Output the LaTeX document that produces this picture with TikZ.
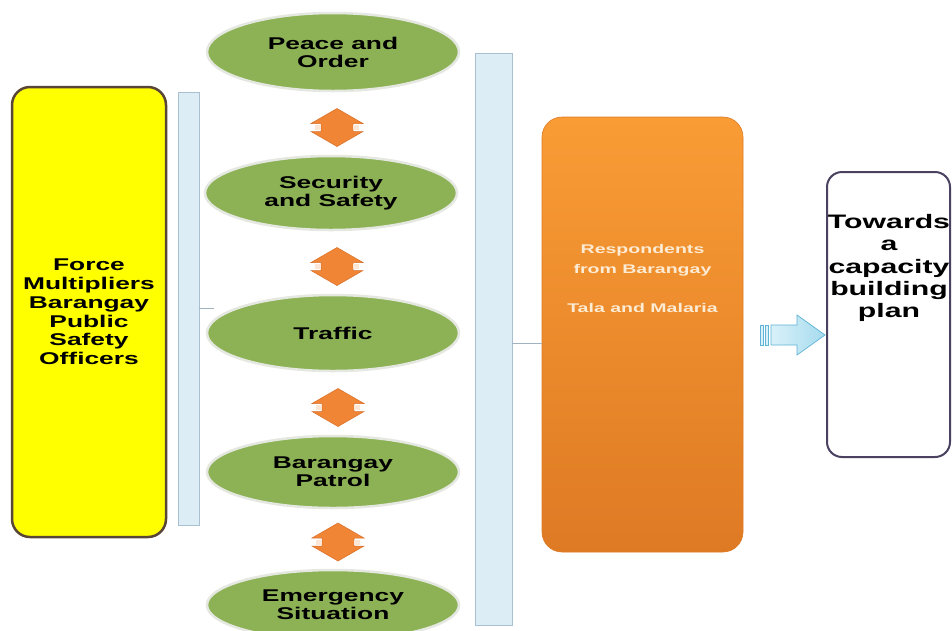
\documentclass[tikz,border=0pt]{standalone}
\usepackage{fontspec}
\setmainfont{Liberation Sans}
\newfontfamily\wide[FakeStretch=1.55]{Liberation Sans}
\usetikzlibrary{shapes.geometric,calc}
\definecolor{ygold}{HTML}{FFFF00}
\definecolor{ybrd}{HTML}{5A4636}
\definecolor{barfill}{HTML}{DDEDF5}
\definecolor{baredge}{HTML}{A8C0CF}
\definecolor{tgreen}{HTML}{8DB256}
\definecolor{halo}{HTML}{E4E8E0}
\definecolor{otop}{HTML}{F99C35}
\definecolor{obot}{HTML}{DE7A24}
\definecolor{otxt}{HTML}{FDEBD3}
\definecolor{darr}{HTML}{F08536}
\definecolor{darredge}{HTML}{D86E25}
\definecolor{rbrd}{HTML}{4A4260}
\definecolor{blA}{HTML}{D9F1F9}
\definecolor{blB}{HTML}{A6DBEE}
\definecolor{blE}{HTML}{5FB3D6}
\begin{document}
\begin{tikzpicture}[x=1pt,y=-1pt,
  ybox/.style={draw=ybrd,line width=2.5pt,fill=ygold,rounded corners=18pt,
    minimum width=154pt,minimum height=450pt,inner sep=0pt,align=center,
    font=\wide\bfseries\fontsize{17}{18.8}\selectfont},
  bar/.style={fill=barfill,draw=baredge,line width=0.6pt,inner sep=0pt},
  topic/.style={ellipse,fill=tgreen,draw=halo,line width=2.5pt,minimum width=252pt,
    inner sep=0pt,align=center,font=\wide\bfseries\fontsize{17}{18}\selectfont},
  obox/.style={rounded corners=20pt,top color=otop,bottom color=obot,draw=obot,
    line width=0.6pt,minimum width=201pt,minimum height=435pt,inner sep=0pt},
  otext/.style={text=otxt,align=center,font=\wide\bfseries\fontsize{12.6}{20}\selectfont},
  rbox/.style={draw=rbrd,line width=2pt,fill=white,rounded corners=15pt,
    minimum width=123pt,minimum height=285pt,inner sep=0pt},
  rtext/.style={align=center,font=\wide\bfseries\fontsize{19.5}{22.3}\selectfont},
  link/.style={draw=baredge!80!gray,line width=0.6pt},
  dblarrow/.pic={
    \fill[darr,draw=darredge,line width=0.5pt] (0,-19) -- (26,-4) -- (16,-4) -- (16,4) -- (26,4)
      -- (0,19) -- (-26,4) -- (-16,4) -- (-16,-4) -- (-26,-4) -- cycle;
    \fill[white!80!darr] (-16,-2.5) rectangle (-22,2.5);
    \fill[white!80!darr] (16,-2.5) rectangle (22,2.5);
  }
]
\clip (0,0) rectangle (952,630);
\fill[white] (0,0) rectangle (952,630);

% left yellow box
\node[ybox] (yb) at (89,312) {Force\\Multipliers\\Barangay\\Public\\Safety\\Officers};

% bars
\node[bar,minimum width=21pt,minimum height=433pt] (lb) at (188.5,308.5) {};
\node[bar,minimum width=37pt,minimum height=572pt] (rb) at (493.5,339) {};

% topics
\node[topic,minimum height=78pt] (e1) at (333,52) {Peace and\\Order};
\node[topic,minimum height=74pt] (e2) at (331,193) {Security\\and Safety};
\node[topic,minimum height=76pt] (e3) at (333,333) {Traffic};
\node[topic,minimum height=72pt] (e4) at (333,472) {Barangay\\Patrol};
\node[topic,minimum height=70pt] (e5) at (333,605) {Emergency\\Situation};

% double arrows between topics
\pic at ($(e1.south)!0.5!(e2.north)+(5,4)$) {dblarrow};
\pic at ($(e2.south)!0.5!(e3.north)+(5,4)$) {dblarrow};
\pic at ($(e3.south)!0.5!(e4.north)+(5,4)$) {dblarrow};
\pic at ($(e4.south)!0.5!(e5.north)+(5,3)$) {dblarrow};

% orange box
\node[obox] (ob) at (642.5,334.5) {};
\node[otext] (ot1) at (642.5,260) {Respondents\\from Barangay};
\node[otext] (ot2) at (642.5,308) {Tala and Malaria};

% right box
\node[rbox] (rbx) at (888.5,314.5) {};
\node[rtext] (rt) at (889,268) {Towards\\a\\capacity\\building\\plan};

% links
\draw[link] (lb.east) -- ++(15,0);
\draw[link] (rb.east |- 0,343) -- (ob.west |- 0,343);

% blue arrow
\coordinate (tip) at ($(rbx.west)+(-1,20.5)$);
\path[left color=blA,right color=blB,draw=blE,line width=0.7pt]
  ($(tip)+(-54,-10)$) -- ($(tip)+(-28,-10)$) -- ($(tip)+(-28,-20)$) -- (tip)
  -- ($(tip)+(-28,20)$) -- ($(tip)+(-28,10)$) -- ($(tip)+(-54,10)$) -- cycle;
\path[fill=blA,draw=blE,line width=0.6pt] ($(tip)+(-65,-10)$) rectangle ($(tip)+(-62,10)$);
\path[fill=blA,draw=blE,line width=0.6pt] ($(tip)+(-60,-10)$) rectangle ($(tip)+(-57,10)$);
\end{tikzpicture}
\end{document}
